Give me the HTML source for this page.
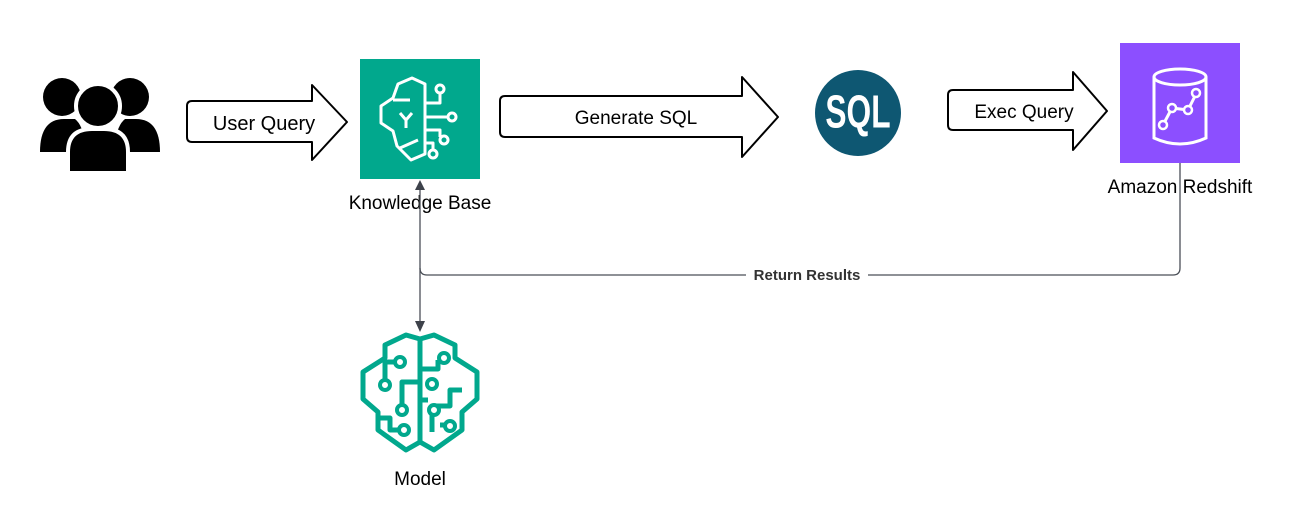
<!DOCTYPE html>
<html><head><meta charset="utf-8"><style>
html,body{margin:0;padding:0;background:#fff;width:1310px;height:525px;overflow:hidden}
svg{display:block}
text{font-family:"Liberation Sans",sans-serif}
</style></head><body>
<svg width="1310" height="525" viewBox="0 0 1310 525" xmlns="http://www.w3.org/2000/svg">
<!-- users -->
<g fill="#000">
<circle cx="62" cy="97" r="19"/><path d="M40 152 Q40 119 64 119 L75 119 Q85 127 85 152 Z"/>
<circle cx="130" cy="97" r="19"/><path d="M160 152 Q160 119 136 119 L125 119 Q115 127 115 152 Z"/>
<circle cx="98" cy="106" r="22" stroke="#fff" stroke-width="4"/>
<path d="M68 173 L68 152 Q68 129 92 129 L104 129 Q128 129 128 152 L128 173 Z" stroke="#fff" stroke-width="4"/>
</g>
<!-- arrows -->
<g fill="#fff" stroke="#000" stroke-width="2" stroke-linejoin="round">
<path d="M192 101 L312 101 L312 85 L347 122 L312 160 L312 142 L192 142 Q187 142 187 137 L187 106 Q187 101 192 101 Z"/>
<path d="M505 96 L742 96 L742 77 L778 117 L742 157 L742 137 L505 137 Q500 137 500 132 L500 101 Q500 96 505 96 Z"/>
<path d="M953 90 L1073 90 L1073 72 L1107 111 L1073 150 L1073 130 L953 130 Q948 130 948 125 L948 95 Q948 90 953 90 Z"/>
</g>
<text x="264" y="130" font-size="20" text-anchor="middle">User Query</text>
<text x="636" y="124" font-size="19" text-anchor="middle">Generate SQL</text>
<text x="1024" y="118" font-size="19" text-anchor="middle">Exec Query</text>
<!-- KB -->
<rect x="360" y="59" width="120" height="120" fill="#01A88D"/>
<g fill="none" stroke="#fff" stroke-width="3" stroke-linejoin="round">
<path d="M412 78 L398 84 L393 98 L381 106 L381 123 L393 131 L397 146 L411 160 L425 154 L425 84 Z"/>
<path d="M425 103 L440 103 L440 93 M425 117 L448 117 M425 130 L440 130 L440 137 M425 143 L433 143 L433 150"/>
<path d="M393 100 L410 100 M400 113 L406 120 L412 113 M406 120 L406 128 M400 148 L418 140"/>
</g>
<g fill="#01A88D" stroke="#fff" stroke-width="3">
<circle cx="440" cy="89" r="4"/><circle cx="452" cy="117" r="4"/><circle cx="444" cy="140" r="4"/><circle cx="433" cy="154" r="4"/>
</g>
<text x="420" y="209" font-size="19" text-anchor="middle">Knowledge Base</text>
<!-- SQL -->
<circle cx="858" cy="113" r="43" fill="#0E5772"/>
<text x="858" y="127" font-size="44" font-weight="bold" fill="#fff" text-anchor="middle" transform="translate(858 113) scale(0.72 1.05) translate(-858 -113)">SQL</text>
<!-- Redshift -->
<rect x="1120" y="43" width="120" height="120" fill="#8C4FFF"/>
<g fill="none" stroke="#fff" stroke-width="3">
<ellipse cx="1180" cy="77" rx="26" ry="8"/>
<path d="M1154 77 L1154 138 Q1180 150 1206 138 L1206 77"/>
<path d="M1163 125 L1172 108 L1188 110 L1196 94"/>
</g>
<g fill="#8C4FFF" stroke="#fff" stroke-width="2.5"><circle cx="1163" cy="125" r="4"/><circle cx="1172" cy="108" r="4"/><circle cx="1188" cy="110" r="4"/><circle cx="1196" cy="93" r="4"/></g>
<text x="1180" y="193" font-size="19" text-anchor="middle">Amazon Redshift</text>
<!-- connectors -->
<g fill="none" stroke="#4a4f57" stroke-width="1.3">
<path d="M1180 163 L1180 268 Q1180 275 1173 275 L427 275 Q420 275 420 268 L420 186"/>
<path d="M420 268 L420 322"/>
</g>
<path d="M415 190 L420 180 L425 190 Z" fill="#3d424a"/>
<path d="M415 321 L420 332 L425 321 Z" fill="#3d424a"/>
<rect x="746" y="266" width="122" height="18" fill="#fff"/>
<text x="807" y="280" font-size="15" font-weight="bold" fill="#333" text-anchor="middle">Return Results</text>
<!-- Model -->
<g fill="none" stroke="#01A88D" stroke-width="5" stroke-linejoin="round">
<path d="M420 339 L406 335 L385 345 L385 358 L363 372 L363 399 L378 412 L378 430 L406 450 L420 442 L434 450 L462 430 L462 412 L477 399 L477 372 L455 358 L455 345 L434 335 Z"/>
<path d="M420 339 L420 442"/>
<path d="M400 362 L385 362 L385 382 M420 382 L402 382 L402 408 M380 418 L390 418 L390 430 L403 430"/>
<path d="M420 369 L438 369 L438 360 M420 400 L428 400 M462 390 L450 390 L450 406 L432 406 L432 432 M448 425 L440 425"/>
</g>
<g fill="#fff" stroke="#01A88D" stroke-width="4">
<circle cx="400" cy="362" r="5"/><circle cx="385" cy="385" r="5"/><circle cx="402" cy="410" r="5"/><circle cx="404" cy="430" r="5"/>
<circle cx="444" cy="358" r="5"/><circle cx="432" cy="384" r="5"/><circle cx="434" cy="410" r="5"/><circle cx="450" cy="426" r="5"/>
</g>
<text x="420" y="485" font-size="19" text-anchor="middle">Model</text>
</svg>
</body></html>
